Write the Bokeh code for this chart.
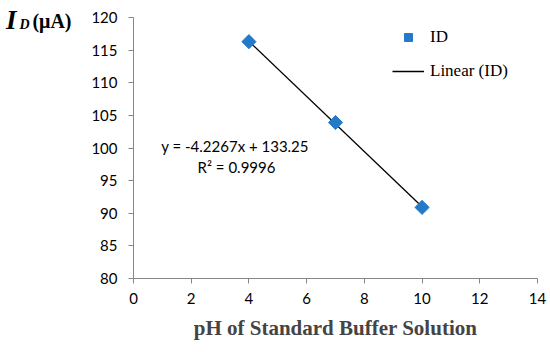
import math
from bokeh.plotting import figure
from bokeh.models import Range1d, Label, Legend, LegendItem, FixedTicker, LinearAxis
from bokeh.embed import file_html
from bokeh.resources import INLINE

ph = [4, 7, 10]
current = [116.3, 103.9, 90.9]
fit_slope = -4.2267
fit_intercept = 133.25
x_ticks = [0, 2, 4, 6, 8, 10, 12, 14]
y_ticks = [80, 85, 90, 95, 100, 105, 110, 115, 120]
eq_text = "y = -4.2267x + 133.25"
r2_text = "R\u00b2 = 0.9996"
y_title_parts = ["(\u03bcA)", "D", "I"]

p = figure(width=550, height=352, output_backend="svg", toolbar_location=None,
           x_range=Range1d(0, 14), y_range=Range1d(80, 120),
           min_border_left=133, min_border_right=13, min_border_top=17, min_border_bottom=74)
p.outline_line_color = None
p.grid.visible = False
p.background_fill_color = "white"
p.border_fill_color = "white"

fx = [ph[0], ph[-1]]
fy = [fit_slope * v + fit_intercept for v in fx]
line_r = p.line(fx, fy, line_color="black", line_width=1.3)
pts = p.scatter(ph, current, marker="square", size=10, angle=math.pi / 4,
                fill_color="#2479C8", line_color="#2479C8")

for ax in (p.xaxis, p.yaxis):
    ax.axis_line_color = "#868686"
    ax.major_tick_line_color = "#868686"
    ax.major_tick_out = 5
    ax.major_tick_in = 0
    ax.minor_tick_line_color = None
    ax.major_label_text_font = "Lato"
    ax.major_label_text_font_size = "15px"
    ax.major_label_text_color = "black"

p.xaxis.ticker = FixedTicker(ticks=x_ticks)
p.yaxis.ticker = FixedTicker(ticks=y_ticks)
p.xaxis.major_label_standoff = 9
p.yaxis.major_label_standoff = 11
p.xaxis.axis_label = "pH of Standard Buffer Solution"
p.xaxis.axis_label_text_font = "Liberation Serif"
p.xaxis.axis_label_text_font_style = "bold"
p.xaxis.axis_label_text_font_size = "21px"
p.xaxis.axis_label_standoff = 9

# y-axis title "I_D (μA)" at the top left, built from label-only axes
title_specs = [
    (y_title_parts[0], 119.4, "bold", "20px", 17),
    (y_title_parts[1], 119.0, "bold italic", "14px", 0),
    (y_title_parts[2], 119.6, "bold italic", "27px", 0),
]
for txt, pos, style, size, standoff in title_specs:
    tax = LinearAxis(ticker=FixedTicker(ticks=[pos]),
                     major_label_overrides={pos: txt},
                     axis_line_color=None, major_tick_line_color=None,
                     minor_tick_line_color=None, major_tick_out=0, major_tick_in=0,
                     major_label_standoff=standoff,
                     major_label_text_font="Liberation Serif",
                     major_label_text_font_style=style,
                     major_label_text_font_size=size,
                     major_label_text_color="black")
    p.add_layout(tax, "left")

p.add_layout(Label(x=3.52, y=100.3, text=eq_text, text_font="Lato", text_font_size="15px",
                   text_color="black", text_align="center", text_baseline="middle"))
p.add_layout(Label(x=3.57, y=97.1, text=r2_text, text_font="Lato", text_font_size="15px",
                   text_color="black", text_align="center", text_baseline="middle"))

legend = Legend(items=[LegendItem(label="ID", renderers=[pts]),
                       LegendItem(label="Linear (ID)", renderers=[line_r])],
                location=(259, 197), orientation="vertical",
                glyph_width=32, glyph_height=20, label_height=20, spacing=14,
                label_standoff=6, padding=0, margin=0,
                border_line_color=None, background_fill_alpha=0,
                label_text_color="black",
                label_text_font="Liberation Serif", label_text_font_size="17px")
p.add_layout(legend)

open("out.html", "w").write(file_html(p, INLINE))
